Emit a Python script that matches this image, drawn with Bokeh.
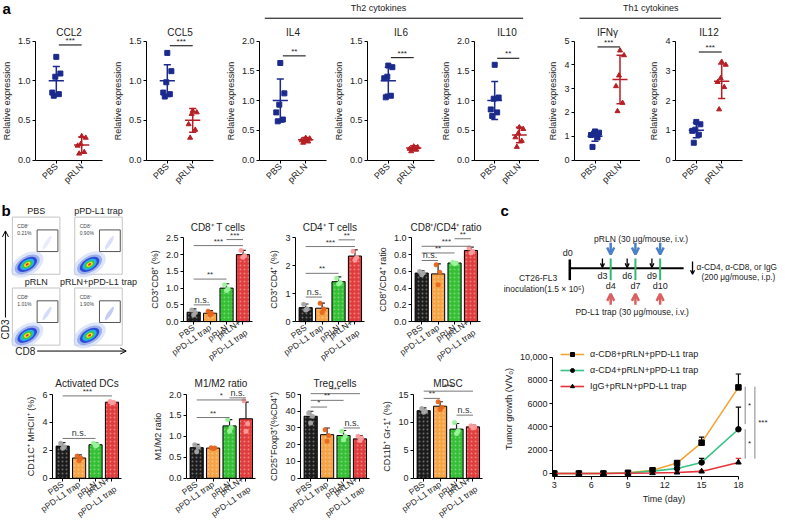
import math
from bokeh.plotting import figure
from bokeh.layouts import row, column
from bokeh.models import (Range1d, FixedTicker, Label, Legend, LegendItem, Arrow,
                          OpenHead, ColumnDataSource, PrintfTickFormatter)
from bokeh.core.properties import value
from bokeh.embed import file_html
from bokeh.resources import INLINE

FONT = "Liberation Sans"

# ---------------- panel a data ----------------
a_genes = ["CCL2", "CCL5", "IL4", "IL6", "IL10", "IFNγ", "IL12"]
a_groups = ["PBS", "pRLN"]
a_ymax = [1.5, 1.5, 2.0, 1.5, 2.0, 5.0, 4.0]
a_ystep = [0.5, 0.5, 0.5, 0.5, 0.5, 1.0, 1.0]
a_pbs_pts = [
    [1.30, 1.09, 1.05, 0.85, 0.83, 0.81],
    [1.35, 1.12, 0.98, 0.85, 0.83, 0.80],
    [1.63, 1.12, 0.93, 0.80, 0.68, 0.65],
    [1.19, 1.17, 1.05, 1.03, 0.81, 0.79],
    [1.60, 1.05, 1.03, 0.85, 0.80, 0.74],
    [1.20, 1.15, 1.10, 1.05, 0.95, 0.55],
    [1.28, 1.20, 1.02, 0.98, 0.85, 0.58],
]
a_pbs_mean = [1.0, 1.0, 1.0, 1.0, 1.0, 1.0, 1.0]
a_pbs_sd = [0.18, 0.20, 0.36, 0.17, 0.32, 0.21, 0.25]
a_prln_pts = [
    [0.30, 0.28, 0.20, 0.18, 0.10, 0.08],
    [0.62, 0.60, 0.58, 0.45, 0.38, 0.28],
    [0.37, 0.36, 0.34, 0.33, 0.31, 0.29],
    [0.17, 0.16, 0.15, 0.14, 0.13, 0.11],
    [0.55, 0.52, 0.45, 0.38, 0.32, 0.22],
    [4.60, 4.40, 3.55, 3.10, 2.40, 2.05],
    [3.30, 3.20, 2.75, 2.62, 2.45, 1.70],
]
a_prln_mean = [0.19, 0.50, 0.34, 0.15, 0.42, 3.38, 2.65]
a_prln_sd = [0.10, 0.15, 0.04, 0.03, 0.13, 1.02, 0.58]
a_sig_y = [1.45, 1.44, 1.75, 1.29, 1.71, 4.75, 3.63]
a_sig = ["***", "***", "**", "***", "**", "***", "***"]

# ---------------- panel b data ----------------
b_groups = ["PBS", "pPD-L1 trap", "pRLN", "pRLN+\npPD-L1 trap"]
flow_titles = ["PBS", "pPD-L1 trap", "pRLN", "pRLN+pPD-L1 trap"]
flow_cd8_pct = [0.21, 0.90, 1.01, 1.90]

cd8_mean = [0.28, 0.25, 1.00, 2.00]
cd8_sd = [0.10, 0.08, 0.13, 0.13]
cd8_pts = [[0.35, 0.27, 0.20], [0.31, 0.24, 0.20], [1.10, 0.97, 0.93], [2.12, 1.97, 1.92]]
cd8_sig = [(0, 1, 0.50, "n.s."), (0, 2, 1.27, "**"), (0, 3, 2.27, "***"), (2, 3, 2.45, "***")]

cd4_mean = [0.50, 0.48, 1.43, 2.35]
cd4_sd = [0.13, 0.18, 0.17, 0.22]
cd4_pts = [[0.62, 0.45, 0.42], [0.66, 0.45, 0.33], [1.55, 1.40, 1.35], [2.52, 2.30, 2.20]]
cd4_sig = [(0, 1, 0.88, "n.s."), (0, 2, 1.73, "**"), (0, 3, 2.69, "***"), (2, 3, 2.93, "**")]

ratio_mean = [0.58, 0.57, 0.70, 0.85]
ratio_sd = [0.03, 0.12, 0.01, 0.04]
ratio_pts = [[0.60, 0.58, 0.56], [0.68, 0.59, 0.44], [0.71, 0.70, 0.69], [0.88, 0.84, 0.82]]
ratio_sig = [(0, 1, 0.73, "n.s."), (0, 2, 0.82, "**"), (0, 3, 0.90, "***"), (2, 3, 0.99, "**")]

dc_mean = [2.30, 1.45, 2.40, 5.45]
dc_sd = [0.25, 0.22, 0.15, 0.05]
dc_pts = [[2.50, 2.25, 2.15], [1.60, 1.45, 1.25], [2.50, 2.40, 2.30], [5.50, 5.45, 5.40]]
dc_sig = [(0, 2, 2.85, "n.s."), (0, 3, 5.90, "***")]

m12_mean = [0.73, 0.72, 1.25, 1.42]
m12_sd = [0.08, 0.01, 0.15, 0.40]
m12_pts = [[0.80, 0.74, 0.63], [0.73, 0.72, 0.71], [1.40, 1.22, 1.12], [1.85, 1.30, 1.12]]
m12_sig = [(0, 2, 1.45, "**"), (0, 3, 1.87, "*"), (2, 3, 1.92, "n.s.")]

treg_mean = [37.0, 26.0, 25.5, 23.5]
treg_sd = [3.0, 4.0, 3.0, 2.0]
treg_pts = [[39.0, 37.0, 33.0], [29.0, 25.5, 22.0], [28.0, 25.0, 23.0], [25.0, 24.0, 22.5]]
treg_sig = [(0, 1, 42.5, "*"), (0, 2, 46.5, "**"), (0, 3, 50.5, "***"), (2, 3, 30.0, "n.s.")]

mdsc_mean = [12.1, 12.9, 8.8, 9.2]
mdsc_sd = [0.5, 0.8, 1.0, 0.3]
mdsc_pts = [[12.5, 12.0, 11.8], [13.7, 12.7, 12.3], [10.0, 8.5, 8.0], [9.4, 9.2, 9.0]]
mdsc_sig = [(0, 1, 14.3, "**"), (0, 3, 15.6, "***"), (2, 3, 11.3, "n.s.")]

# ---------------- panel c data ----------------
c_days = [3, 5, 7, 9, 11, 13, 15, 18]
c_names = ["α-CD8+pRLN+pPD-L1 trap", "α-CD4+pRLN+pPD-L1 trap", "IgG+pRLN+pPD-L1 trap"]
c_cd8 = [0, 0, 0, 60, 280, 900, 2650, 7400]
c_cd8_err = [0, 0, 0, 20, 60, 160, 480, 1150]
c_cd4 = [0, 0, 0, 40, 200, 430, 950, 3800]
c_cd4_err = [0, 0, 0, 15, 50, 110, 350, 1900]
c_igg = [0, 0, 0, 20, 40, 90, 180, 950]
c_igg_err = [0, 0, 0, 10, 20, 40, 80, 350]
c_sig = [(18.55, 7460, 4240, "*"), (18.55, 3810, 1270, "*"), (19.34, 7460, 1270, "***")]
s_ab_days = [3, 6, 9]
s_tx_days = [4, 7, 10]

NAVY = "#1b2a8c"
DRED = "#b51f24"
BAR_COLORS = ["#1c1c1c", "#f5a345", "#33c033", "#e03c3c"]
PT_COLORS = ["#a8a8a8", "#e8661e", "#9af59a", "#ff9c9c"]
JIT = [0.0, 0.16, -0.04, -0.16, 0.10, -0.10]
PT_JIT = [-0.12, 0.10, 0.0]

# whole page is drawn at 777 x 521 px; reference coordinates are 785 x 529
SX, SY = 777 / 785, 521 / 529


def style_axes(p):
    p.xgrid.visible = False
    p.ygrid.visible = False
    p.outline_line_color = None
    p.background_fill_color = "white"
    p.border_fill_color = "white"
    for ax in p.axis:
        ax.axis_label = None
        ax.axis_line_color = "black"
        ax.axis_line_width = 1
        ax.major_tick_line_color = "black"
        ax.minor_tick_line_color = None
        ax.major_tick_out = 3
        ax.major_tick_in = 0
        ax.major_label_text_font = FONT
        ax.major_label_text_font_size = "9px"
        ax.major_label_text_color = "#222"
        ax.axis_label_text_font = FONT
        ax.axis_label_text_font_size = "9px"
        ax.axis_label_text_font_style = "normal"
        ax.axis_label_text_color = "#222"
        ax.major_label_standoff = 2
        ax.axis_label_standoff = 3


def txt(p, xs, ys, texts, size="9px", align="center", baseline="middle", style="normal",
        angle=0.0, color="#222"):
    p.text(x=xs, y=ys, text=texts, text_font=value(FONT), text_font_size=size,
           text_align=align, text_baseline=baseline, text_font_style=style,
           angle=angle, text_color=color)


def chart(width, height, x0, x1, left, frame, ymax, ystep, t0, b0, title_px, title, ylabel,
          ticks, tick_labels, angle, tick_size):
    """The plot frame fills the whole figure; both axes are pinned (y axis at x0, x axis at
    y=0) so that their labels, the title and rotated category names stay inside it.
    y=0 sits at local pixel b0, y=ymax at t0; x0 at local pixel `left`."""
    dpp = ymax / (b0 - t0)
    yr = Range1d(-(height - b0) * dpp, ymax + t0 * dpp)
    dpx = (x1 - x0) / frame
    right = width - left - frame
    xr = Range1d(x0 - left * dpx, x1 + right * dpx)
    p = figure(width=width, height=height, x_range=xr, y_range=yr, title=None,
               output_backend="svg", toolbar_location=None, min_border=0, frame_align=False)
    style_axes(p)
    p.yaxis.fixed_location = x0
    p.yaxis.bounds = (0, ymax)
    n = int(round(ymax / ystep))
    p.yaxis.ticker = FixedTicker(ticks=[round(i * ystep, 4) for i in range(n + 1)])
    p.yaxis.formatter = PrintfTickFormatter(format="%.1f" if ystep < 1 else "%d")
    p.yaxis.axis_label = ylabel
    p.xaxis.fixed_location = 0
    p.xaxis.bounds = (x0, x1)
    p.xaxis.ticker = FixedTicker(ticks=ticks)
    p.xaxis.major_label_overrides = {t: lab for t, lab in zip(ticks, tick_labels)}
    p.xaxis.major_label_orientation = angle
    p.xaxis.major_label_text_font_size = tick_size
    txt(p, [(x0 + x1) / 2], [ymax + (t0 - title_px) * dpp], [title], size="10px")
    return p


def canvas(w, h, xr, yr):
    p = figure(width=w, height=h, x_range=xr, y_range=yr, x_axis_type=None, y_axis_type=None,
               output_backend="svg", toolbar_location=None, min_border=0, title=None,
               frame_align=False)
    p.outline_line_color = None
    p.background_fill_color = "white"
    p.border_fill_color = "white"
    return p


# ---------------- header (reference coordinates) ----------------
HD_H = 21
hd = canvas(777, HD_H, Range1d(0, 777 / SX), Range1d(HD_H / SY, 0))
txt(hd, [2], [8], ["a"], size="15px", align="left", style="bold", color="black")
hd.segment(x0=[267, 585], y0=[18, 18], x1=[528, 728], y1=[18, 18], line_color="black", line_width=1)
txt(hd, [382, 657], [8, 8], ["Th2 cytokines", "Th1 cytokines"], size="9px")

# ---------------- panel a ----------------
A_H = 170


def dot_plot(k, width):
    left = 35
    frame = min(67, width - left)
    ymax = a_ymax[k]
    p = chart(width, A_H, -0.82, 1.82, left, frame, ymax, a_ystep[k], 19.5, 138.5, 10.5,
              a_genes[k], "Relative expression", [0, 1], a_groups, 0.785, "9px")
    groups = [(a_pbs_pts[k], a_pbs_mean[k], a_pbs_sd[k], NAVY, "square"),
              (a_prln_pts[k], a_prln_mean[k], a_prln_sd[k], DRED, "triangle")]
    for i, (pts, m, sd, col, mk) in enumerate(groups):
        xs = [i + JIT[j] for j in range(len(pts))]
        p.scatter(xs, pts, marker=mk, size=5, color=col)
        p.segment(x0=[i - 0.3], y0=[m], x1=[i + 0.3], y1=[m], line_color=col, line_width=1.5)
        p.segment(x0=[i], y0=[m - sd], x1=[i], y1=[m + sd], line_color=col, line_width=1.5)
        p.segment(x0=[i - 0.14, i - 0.14], y0=[m - sd, m + sd], x1=[i + 0.14, i + 0.14],
                  y1=[m - sd, m + sd], line_color=col, line_width=1.5)
    p.segment(x0=[0.1], y0=[a_sig_y[k]], x1=[1.0], y1=[a_sig_y[k]], line_color="black", line_width=1)
    p.add_layout(Label(x=0.55, y=a_sig_y[k], text=a_sig[k], text_align="center",
                       text_baseline="bottom", text_font=FONT, text_font_size="8px",
                       text_color="#222"))
    return p


a_widths = [111, 113, 108, 107, 100, 101, 137]
a_figs = [dot_plot(k, w) for k, w in enumerate(a_widths)]

# ---------------- panel b bar charts ----------------
BAR_X = [0, 1, 2, 3]
TOP_H, BOT_H = 180, 150


def bar_chart(title, ylabel, means, sds, pts, ymax, ystep, sigs, width, height, left, t0, b0, title_px):
    p = chart(width, height, -0.62, 3.58, left, 69, ymax, ystep, t0, b0, title_px,
              title, ylabel, BAR_X, b_groups, 0.62, "8.5px")
    p.vbar(x=BAR_X, top=means, bottom=0, width=0.8, fill_color=BAR_COLORS, line_color="black", line_width=1,
           hatch_pattern="dot", hatch_color="white", hatch_alpha=0.35, hatch_scale=4, hatch_weight=1)
    tops = [m + s for m, s in zip(means, sds)]
    p.segment(x0=BAR_X, y0=means, x1=BAR_X, y1=tops, line_color="#222", line_width=1.2)
    p.segment(x0=[x - 0.17 for x in BAR_X], y0=tops, x1=[x + 0.17 for x in BAR_X], y1=tops,
              line_color="#222", line_width=1.2)
    for i in range(4):
        p.scatter([i + o for o in PT_JIT], pts[i], size=5, color=PT_COLORS[i], line_color=None, alpha=0.95)
    for (i, j, y, s) in sigs:
        p.segment(x0=[i], y0=[y], x1=[j], y1=[y], line_color="#777", line_width=1)
        p.add_layout(Label(x=(i + j) / 2, y=y, text=s, text_align="center", text_baseline="bottom",
                           text_font=FONT, text_font_size="8px" if s.startswith("*") else "9px",
                           text_color="#333"))
    return p


TT = (46.4, 130.1, 35.5)
TB = (23.0, 106.7, 12.2)
f_cd8 = bar_chart("CD8⁺ T cells", "CD3⁺CD8⁺ (%)", cd8_mean, cd8_sd, cd8_pts, 2.5, 0.5, cd8_sig, 114, TOP_H, 41, *TT)
f_cd4 = bar_chart("CD4⁺ T cells", "CD3⁺CD4⁺ (%)", cd4_mean, cd4_sd, cd4_pts, 3.0, 1.0, cd4_sig, 116, TOP_H, 39, *TT)
f_ratio = bar_chart("CD8⁺/CD4⁺ ratio", "CD8⁺/CD4⁺ ratio", ratio_mean, ratio_sd, ratio_pts, 1.0, 0.2, ratio_sig, 128, TOP_H, 39, *TT)
f_dc = bar_chart("Activated DCs", "CD11C⁺ MHCII⁺ (%)", dc_mean, dc_sd, dc_pts, 6.0, 2.0, dc_sig, 146, BOT_H, 52, *TB)
f_m12 = bar_chart("M1/M2 ratio", "M1/M2 ratio", m12_mean, m12_sd, m12_pts, 2.0, 0.5, m12_sig, 113, BOT_H, 40, *TB)
f_treg = bar_chart("Treg cells", "CD25⁺Foxp3⁺(%CD4⁺)", treg_mean, treg_sd, treg_pts, 50, 10, treg_sig, 114, BOT_H, 41, *TB)
f_mdsc = bar_chart("MDSC", "CD11b⁺ Gr-1⁺ (%)", mdsc_mean, mdsc_sd, mdsc_pts, 15, 5, mdsc_sig, 127, BOT_H, 40, *TB)

# ---------------- panel b flow cytometry (reference coordinates) ----------------
Y0 = 194
fl = canvas(142, TOP_H, Range1d(0, 142 / SX), Range1d(Y0 + TOP_H / SY, Y0))
txt(fl, [1], [213], ["b"], size="15px", align="left", style="bold", color="black")
BW, BH = 48, 58
lefts = [12 + 63 * (i % 2) for i in range(4)]
tops = [220 + 72 * (i // 2) for i in range(4)]
fl.quad(left=lefts, right=[l + BW for l in lefts], top=tops, bottom=[t + BH for t in tops],
        fill_color=None, line_color="#c4c4c4", line_width=1)
txt(fl, [l + BW / 2 for l in lefts], [t - 6 for t in tops], flow_titles, size="9px")
blob_layers = [(36, 22, "#c9d5f6", 0.6), (28, 16, "#7e97e6", 0.7), (22, 12, "#2c4bd6", 1.0),
               (16, 9, "#25b4e6", 1.0), (11, 6.5, "#3cc63c", 1.0), (7, 4, "#f0e12a", 1.0),
               (3.5, 2, "#e2301e", 1.0)]
for l, t, pct in zip(lefts, tops, flow_cd8_pct):
    # CD8+ population streak inside the gate (intensity follows the percentage)
    fl.ellipse(x=[l + 35], y=[t + 26], width=[16], height=[4], angle=1.0,
               fill_color="#6f86e0", fill_alpha=0.12 + 0.3 * pct / 1.9, line_color=None)
    for w, h, col, a in blob_layers:
        fl.ellipse(x=[l + 15], y=[t + 48], width=[w], height=[h], angle=0.55,
                   fill_color=col, fill_alpha=a, line_color=None)
    fl.quad(left=[l + 25], right=[l + 46], top=[t + 13], bottom=[t + 35],
            fill_color=None, line_color="#555", line_width=1)
txt(fl, [l + 5 for l in lefts], [t + 9 for t in tops], ["CD8⁺"] * 4, size="5px", align="left", color="#444")
txt(fl, [l + 5 for l in lefts], [t + 16 for t in tops], [f"{v:.2f}%" for v in flow_cd8_pct],
    size="5px", align="left", color="#444")
fl.add_layout(Arrow(end=OpenHead(size=6, line_width=1), x_start=5, y_start=322, x_end=5, y_end=234,
                    line_width=1, line_color="black"))
fl.add_layout(Arrow(end=OpenHead(size=6, line_width=1), x_start=37, y_start=356, x_end=127, y_end=356,
                    line_width=1, line_color="black"))
txt(fl, [5], [334], ["CD3"], size="10px", angle=math.pi / 2)
txt(fl, [15], [356], ["CD8"], size="10px", align="left")

# ---------------- panel c schematic (days on x, reference pixels on y) ----------------
SC_H = 142
DPX, X0 = 8.33, 583.0


def sx(px):
    return (px - X0) / DPX


sc = canvas(277, SC_H, Range1d(sx(505), sx(505 + 277 / SX)), Range1d(Y0 + SC_H / SY, Y0))
txt(sc, [sx(505)], [213], ["c"], size="15px", align="left", style="bold", color="black")
d0 = sx(575)
sc.segment(x0=[d0], y0=[272], x1=[sx(690)], y1=[272], line_color="black", line_width=2)
sc.segment(x0=[d0], y0=[263], x1=[d0], y1=[284], line_color="black", line_width=2.5)
txt(sc, [sx(573)], [256], ["d0"], size="9px")
sc.segment(x0=s_tx_days, y0=[262] * 3, x1=s_tx_days, y1=[284] * 3, line_color="#2ebd6b", line_width=2)
BLUE, RED = "#4a80c8", "#d9605e"
sc.add_layout(Arrow(end=OpenHead(size=7, line_width=2.5, line_color=BLUE), line_color=BLUE, line_width=2.5,
                    source=ColumnDataSource(dict(x=s_tx_days, y0=[246] * 3, y1=[258] * 3)),
                    x_start="x", y_start="y0", x_end="x", y_end="y1"))
sc.add_layout(Arrow(end=OpenHead(size=7, line_width=2.5, line_color=RED), line_color=RED, line_width=2.5,
                    source=ColumnDataSource(dict(x=s_tx_days, y0=[309] * 3, y1=[298] * 3)),
                    x_start="x", y_start="y0", x_end="x", y_end="y1"))
sc.add_layout(Arrow(end=OpenHead(size=4, line_width=1.3), line_color="black", line_width=1.3,
                    source=ColumnDataSource(dict(x=s_ab_days, y0=[262] * 3, y1=[271] * 3)),
                    x_start="x", y_start="y0", x_end="x", y_end="y1"))
txt(sc, s_ab_days, [280] * 3, [f"d{d}" for d in s_ab_days], size="9px")
txt(sc, s_tx_days, [290] * 3, [f"d{d}" for d in s_tx_days], size="9px")
txt(sc, [sx(647)], [242], ["pRLN (30 μg/mouse, i.v.)"], size="8.5px")
txt(sc, [sx(638)], [316], ["PD-L1 trap (30 μg/mouse, i.v.)"], size="8.5px")
txt(sc, [sx(543)], [282], ["CT26-FL3"], size="8.5px")
txt(sc, [sx(549)], [293], ["inoculation(1.5 × 10⁵)"], size="8.5px")
sc.add_layout(Arrow(end=OpenHead(size=4, line_width=1.3), x_start=sx(699), y_start=265, x_end=sx(699),
                    y_end=278, line_color="black", line_width=1.3))
txt(sc, [sx(703)], [271], ["α-CD4, α-CD8, or IgG"], size="8.3px", align="left")
txt(sc, [sx(708)], [281], ["(200 μg/mouse, i.p.)"], size="8.3px", align="left")

# ---------------- panel c tumour growth ----------------
LC_H = 188
lc = figure(width=277, height=LC_H, x_range=Range1d(2.85, 21.02), y_range=Range1d(-258, 11342),
            title=None, output_backend="svg", toolbar_location=None, min_border_left=46,
            min_border_right=2, min_border_top=8, min_border_bottom=45, frame_align=False)
style_axes(lc)
lc.xaxis.bounds = (2.85, 18)
lc.yaxis.bounds = (-258, 10000)
lc.xaxis.ticker = FixedTicker(ticks=[3, 6, 9, 12, 15, 18])
lc.yaxis.ticker = FixedTicker(ticks=[0, 2000, 4000, 6000, 8000, 10000])
lc.yaxis.major_label_overrides = {10000: "10,000"}
lc.xaxis.axis_label = "Time (day)"
lc.yaxis.axis_label = "Tumor growth (V/V₀)"
series = [(c_cd8, c_cd8_err, "#f2a532", "square", "black"),
          (c_cd4, c_cd4_err, "#35c486", "circle", "black"),
          (c_igg, c_igg_err, "#e8333a", "triangle", "#e8333a")]
items = []
for name, (ys, errs, col, mk, ecol) in zip(c_names, series):
    tops_ = [y + e for y, e in zip(ys, errs)]
    lc.segment(x0=c_days, y0=ys, x1=c_days, y1=tops_, line_color=ecol, line_width=1.2)
    lc.segment(x0=[d - 0.22 for d in c_days], y0=tops_, x1=[d + 0.22 for d in c_days], y1=tops_,
               line_color=ecol, line_width=1.2)
    l = lc.line(c_days, ys, line_color=col, line_width=1.6)
    s = lc.scatter(c_days, ys, marker=mk, size=5.5, color="black")
    items.append(LegendItem(label=name, renderers=[l, s]))
leg = Legend(items=items, location="top_left", margin=8, padding=2, spacing=6,
             glyph_width=24, glyph_height=10, label_height=10, label_standoff=6,
             label_text_font=FONT, label_text_font_size="9px", label_text_color="#222",
             border_line_color=None, background_fill_alpha=0)
lc.add_layout(leg)
for (x, y0, y1, s) in c_sig:
    lc.segment(x0=[x], y0=[y0], x1=[x], y1=[y1], line_color="#888", line_width=1)
    lc.add_layout(Label(x=x + (0.35 if len(s) == 1 else 0.65), y=(y0 + y1) / 2, text=s,
                        text_align="center", text_baseline="middle", text_font=FONT,
                        text_font_size="8px", text_color="#222"))

layout = column(hd, row(*a_figs),
                row(column(row(fl, f_cd8, f_cd4, f_ratio), row(f_dc, f_m12, f_treg, f_mdsc)),
                    column(sc, lc)))

open("out.html", "w").write(file_html(layout, INLINE))
